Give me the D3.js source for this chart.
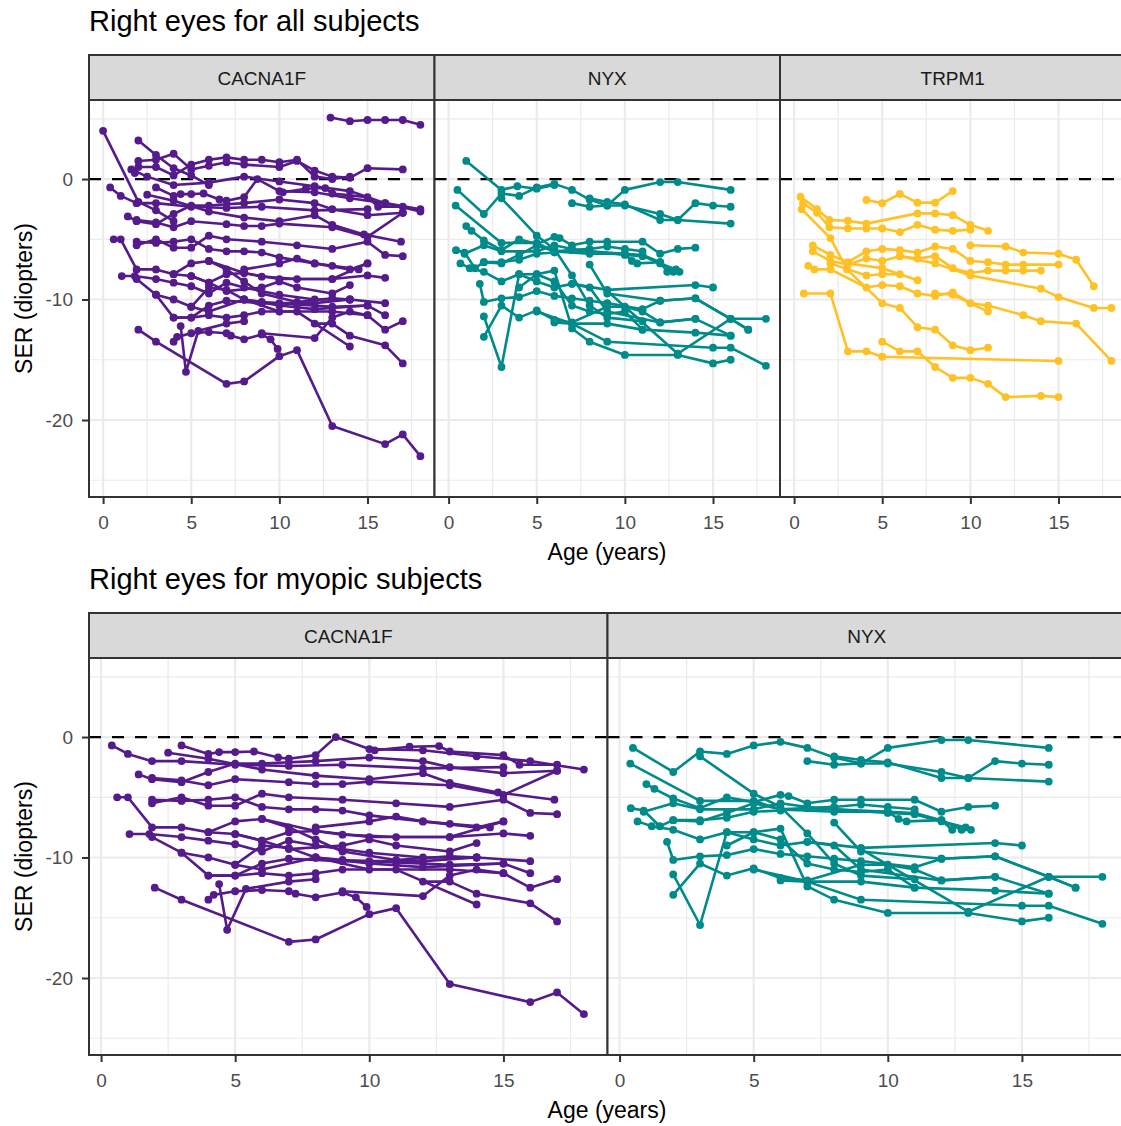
<!DOCTYPE html>
<html><head><meta charset="utf-8">
<script src="https://cdn.jsdelivr.net/npm/d3@7"></script>
<style>body{margin:0;background:#fff} svg{display:block}</style>
</head><body><svg id="chart" width="1121" height="1126"></svg>
<script>
// ---------- DATA (age in years, SER in diopters), one array per subject ----------
const cacna1fMyopic = [
  [[0.4,-0.7],[1.0,-1.4],[1.9,-2.0],[3.0,-2.0],[5.0,-2.3],[7.0,-2.4],[9.0,-2.3],[12.0,-2.6],[15.0,-2.5]],
  [[3.0,-0.7],[4.0,-1.4],[4.4,-1.25],[5.0,-1.25],[5.7,-1.2],[6.6,-1.7],[7.0,-1.8],[8.0,-1.5],[8.75,0.0],[10.0,-1.0],[12.0,-1.1],[14.0,-1.6],[16.0,-2.0],[18.0,-2.7]],
  [[10.2,-1.1],[11.5,-0.8],[12.6,-0.75],[13.0,-1.2],[15.0,-1.5],[15.6,-2.3],[17.0,-2.3]],
  [[1.4,-3.1],[1.9,-3.5],[3.0,-3.75],[4.0,-2.9],[5.0,-2.2],[6.0,-2.2],[8.0,-2.0],[10.0,-1.7],[12.0,-2.0],[13.0,-2.5],[15.0,-3.0],[17.0,-2.8]],
  [[1.9,-3.4],[3.0,-3.6],[4.0,-4.0],[5.0,-3.5],[7.0,-3.75],[8.0,-3.9],[9.0,-3.9],[10.0,-3.7],[13.0,-4.0],[15.0,-4.8],[17.0,-2.8]],
  [[2.5,-1.3],[4.0,-1.8],[6.0,-2.7],[8.0,-3.2],[10.0,-3.5],[12.0,-3.0],[13.0,-3.8],[14.8,-4.6],[16.9,-5.2]],
  [[0.6,-5.0],[1.0,-5.0],[1.9,-7.5],[3.0,-7.5],[4.0,-7.9],[5.0,-8.05],[6.0,-8.6],[7.0,-7.9],[8.0,-7.8],[10.0,-8.3],[13.0,-8.3],[15.0,-8.0],[16.0,-8.2]],
  [[1.9,-5.5],[3.0,-5.0],[4.0,-5.7],[5.0,-5.7],[6.0,-4.7],[7.0,-5.0],[9.0,-5.2],[11.0,-5.5],[13.0,-5.8],[15.0,-5.2],[16.0,-6.3],[17.0,-6.4]],
  [[1.9,-5.2],[3.0,-5.3],[4.0,-5.2],[5.0,-5.0],[6.0,-5.8],[7.0,-6.0],[8.0,-6.0],[9.0,-6.1],[10.0,-6.5],[12.0,-7.0],[14.0,-7.5],[15.0,-7.0]],
  [[1.06,-8.05],[1.8,-8.05],[3.0,-8.3],[4.0,-8.6],[5.0,-8.9],[6.0,-9.5],[7.0,-8.6],[8.0,-9.0],[10.0,-9.6],[12.0,-10.0],[14.0,-10.0],[16.0,-10.3]],
  [[1.9,-8.3],[3.0,-9.6],[4.0,-10.0],[5.0,-10.6],[6.0,-9.0],[7.0,-9.2],[8.0,-10.0],[9.0,-10.2],[11.0,-10.4],[13.0,-10.6],[15.0,-10.5],[16.0,-11.3]],
  [[4.0,-11.5],[5.0,-11.5],[6.0,-11.3],[7.0,-11.5],[8.0,-11.3],[9.0,-11.0],[11.0,-11.0],[14.0,-13.9]],
  [[4.0,-13.5],[4.2,-13.1],[5.0,-12.8],[6.0,-12.7],[7.0,-12.8],[7.25,-13.0],[8.0,-13.3],[9.0,-12.9],[9.5,-13.3],[9.9,-14.1]],
  [[4.4,-12.2],[4.7,-16.0],[5.4,-12.6],[7.0,-12.0],[8.0,-11.8]],
  [[2.0,-12.5],[3.0,-13.5],[7.0,-17.0],[8.0,-16.8],[10.0,-14.7],[11.0,-14.2],[13.0,-20.5],[16.0,-22.0],[17.0,-21.2],[18.0,-23.0]],
  [[9.0,-12.8],[12.0,-13.2],[13.0,-11.5],[14.0,-11.0],[15.0,-11.3]],
  [[12.0,-12.0],[13.0,-12.0],[14.0,-13.0],[16.0,-13.8],[17.0,-15.3]],
  [[8.0,-10.0],[10.0,-11.0],[13.0,-11.0],[15.0,-11.3],[16.0,-12.5],[17.0,-11.8]],
  [[5.0,-8.05],[6.0,-8.6],[7.0,-9.3],[9.0,-9.0],[10.0,-8.5],[11.0,-9.0],[13.0,-9.5],[14.0,-8.8]],
  [[4.0,-7.9],[5.0,-7.0],[6.0,-6.8],[8.0,-7.8],[9.0,-8.1],[11.0,-8.3],[13.0,-8.3],[15.0,-7.0]],
  [[3.0,-9.6],[4.0,-11.5],[5.0,-11.5],[6.0,-10.5],[7.0,-10.1],[9.0,-10.3],[10.0,-10.3],[12.0,-10.3],[14.0,-10.0]],
  [[5.0,-10.6],[6.0,-11.0],[8.0,-10.0],[10.0,-10.5],[12.0,-10.8],[15.0,-10.5]],
  [[6.0,-6.8],[7.0,-7.5],[8.0,-8.5],[9.0,-9.5],[11.0,-10.2],[13.0,-9.9],[14.0,-10.0]],
  [[8.0,-7.5],[10.0,-7.0],[11.0,-6.6],[12.0,-7.0],[13.0,-7.2],[14.5,-7.5]]
];
const cacna1fOther = [
  [[0.0,4.0],[2.0,-1.9],[3.0,-2.6],[4.0,-3.5]],
  [[12.9,5.1],[14.0,4.8],[15.0,4.9],[16.0,4.9],[17.0,4.9],[18.0,4.5]],
  [[2.0,3.2],[3.0,2.0],[4.0,0.9],[5.0,0.3],[6.0,-0.5]],
  [[2.0,1.5],[3.0,1.6],[4.0,2.1],[5.0,0.8],[6.0,1.1],[7.0,1.4],[8.0,1.2],[10.0,1.0],[11.0,1.5],[12.0,0.7],[13.0,0.2],[14.0,0.1],[15.0,0.9],[17.0,0.8]],
  [[1.8,0.5],[2.0,1.0],[3.0,1.0],[4.0,0.3],[5.0,1.2],[6.0,1.6],[7.0,1.8],[8.0,1.6],[9.0,1.6],[10.0,1.4],[11.0,1.6],[12.0,0.2],[13.0,0.0],[14.0,0.2]],
  [[1.6,0.8],[2.5,0.2],[4.0,-0.5],[6.0,-0.3],[8.0,0.2],[10.0,-0.2],[12.0,-0.6],[14.0,-1.0],[16.0,-2.0],[18.0,-2.5]]
];
const nyxMyopic = [
  [[0.5,-0.9],[2.0,-2.9],[3.0,-1.2],[4.0,-1.4],[5.0,-0.7],[6.0,-0.4],[7.0,-0.9],[8.0,-1.7],[9.0,-2.2],[10.0,-2.2],[12.0,-2.9],[13.0,-3.4],[16.0,-3.7]],
  [[7.0,-2.0],[8.0,-2.3],[9.0,-2.2],[10.0,-0.9],[12.0,-0.25],[13.0,-0.25],[16.0,-0.9]],
  [[8.0,-1.6],[9.0,-1.9],[10.0,-2.1],[12.0,-3.4],[13.0,-3.4],[14.0,-2.0],[15.0,-2.2],[16.0,-2.3]],
  [[0.4,-2.2],[3.0,-5.3],[5.0,-5.3],[6.0,-6.0],[8.0,-6.2],[10.0,-6.2],[11.0,-6.3],[12.0,-6.9],[12.4,-7.7]],
  [[3.0,-1.6],[5.0,-4.7],[6.0,-5.8],[7.0,-8.0],[8.0,-10.5],[9.0,-11.5],[11.0,-11.8]],
  [[1.0,-3.9],[1.3,-4.3],[2.0,-5.1],[3.0,-5.9],[4.0,-5.0],[5.0,-5.4],[6.0,-4.8],[6.3,-4.9],[7.0,-5.5],[8.0,-5.2],[9.0,-5.2],[11.0,-5.2],[12.0,-6.2],[13.0,-5.8],[14.0,-5.7]],
  [[0.42,-5.9],[0.9,-6.1],[1.5,-7.4],[2.0,-6.9],[3.0,-6.9],[4.0,-6.7],[5.0,-6.2],[6.0,-6.1],[7.0,-5.9],[8.0,-6.0],[10.0,-6.2],[10.4,-6.8],[10.7,-7.0],[12.0,-6.9],[12.75,-7.7],[13.1,-7.7]],
  [[0.67,-7.0],[1.2,-7.4],[2.0,-7.7],[3.0,-8.5],[4.0,-7.9],[5.0,-7.9],[6.0,-7.6],[7.0,-12.4],[8.0,-13.5],[10.0,-14.6],[13.0,-14.6],[15.0,-15.3],[16.0,-15.0]],
  [[1.77,-8.7],[2.0,-10.2],[3.0,-9.9],[4.0,-9.8],[5.0,-9.3],[6.0,-9.7],[7.0,-9.9],[8.0,-10.1],[9.0,-10.3],[11.0,-10.8],[12.0,-10.1],[14.0,-9.9],[16.0,-11.6],[17.0,-12.5]],
  [[2.0,-11.4],[3.0,-15.6],[4.0,-7.9],[5.0,-8.5],[6.0,-9.0],[7.0,-8.7],[9.0,-9.2],[14.0,-8.8],[15.0,-9.0]],
  [[2.0,-13.1],[3.0,-10.5],[4.0,-11.5],[5.0,-10.9],[6.0,-11.7],[7.0,-11.9],[9.0,-10.6],[10.0,-10.6],[11.0,-11.0],[12.0,-11.9],[14.0,-11.6],[16.0,-13.0]],
  [[4.0,-9.0],[5.0,-7.9],[6.0,-8.5],[7.0,-10.5],[8.0,-11.0],[9.0,-11.2],[10.0,-11.0],[11.0,-12.5]],
  [[8.0,-7.1],[9.0,-9.5],[12.0,-10.1],[14.0,-9.9],[16.0,-11.6],[17.0,-12.5]],
  [[7.0,-8.7],[8.0,-9.0],[9.0,-11.0],[12.0,-11.9],[14.0,-11.6]],
  [[6.0,-11.9],[7.0,-12.0],[9.0,-12.0],[11.0,-12.5],[14.0,-12.75],[16.0,-13.0]],
  [[5.0,-11.0],[7.0,-12.0],[9.0,-13.5],[15.0,-14.0],[16.0,-14.0],[18.0,-15.5]],
  [[9.0,-9.3],[13.0,-14.5],[16.0,-11.6],[18.0,-11.6]],
  [[0.9,-6.2],[2.0,-5.5],[3.0,-6.0],[5.0,-6.0],[6.0,-5.5],[7.0,-5.8],[8.0,-6.0],[10.0,-6.3],[11.0,-6.4],[12.0,-7.0],[12.9,-7.5]],
  [[2.0,-6.9],[3.0,-7.0],[4.0,-6.3],[5.0,-5.5],[6.0,-6.0],[8.0,-5.8],[9.0,-5.6],[10.0,-5.8],[11.0,-6.0]]
];
const nyxOther = [
  [[1.0,1.5],[3.0,-0.9],[3.9,-0.6],[5.0,-0.8],[6.0,-0.5]]
];
const trpm1All = [
  [[4.1,-1.74],[5.0,-2.0],[6.0,-1.24],[7.0,-1.96],[8.0,-1.96],[9.0,-1.0]],
  [[0.43,-2.5],[2.06,-4.9],[3.0,-7.5],[5.0,-10.3],[6.0,-10.7],[7.0,-12.3],[8.0,-12.5],[9.0,-13.8],[10.0,-14.2],[11.0,-14.0]],
  [[0.55,-9.5],[2.06,-9.5],[3.05,-14.3],[4.1,-14.3],[5.0,-14.75],[15.0,-15.1]],
  [[5.0,-13.5],[6.0,-14.3],[7.0,-14.3],[8.0,-15.6],[9.0,-16.5],[10.0,-16.5],[11.0,-17.0],[12.0,-18.1],[14.0,-18.0],[15.0,-18.1]],
  [[0.36,-1.47],[1.3,-2.5],[2.0,-3.4],[3.05,-3.46],[4.1,-3.7],[7.0,-2.85],[8.0,-2.85],[9.0,-3.0],[10.0,-3.8],[11.0,-4.3]],
  [[0.5,-2.0],[1.3,-2.8],[2.0,-4.0],[3.05,-4.1],[4.1,-4.1],[5.0,-4.1],[6.0,-4.4],[7.0,-3.8],[8.0,-4.2],[9.0,-4.3],[10.0,-4.2]],
  [[1.06,-5.5],[2.06,-6.3],[3.05,-6.9],[4.1,-6.0],[5.0,-5.8],[6.0,-5.9],[7.0,-6.1],[8.0,-5.6],[9.0,-5.8],[10.0,-6.8],[11.0,-6.9],[12.0,-7.1],[13.0,-7.1],[15.0,-7.1]],
  [[1.06,-6.0],[2.06,-6.8],[3.05,-7.1],[4.1,-6.6],[5.0,-6.8],[6.0,-6.4],[7.0,-6.6],[8.0,-6.4],[9.0,-7.4],[10.0,-7.8],[11.0,-7.6],[12.0,-7.6],[13.0,-7.6],[14.0,-7.6]],
  [[10.0,-5.5],[12.0,-5.6],[13.0,-6.1],[15.0,-6.2],[16.0,-6.7],[17.0,-8.9]],
  [[0.8,-7.2],[1.15,-7.5],[2.06,-7.5],[4.1,-9.0],[5.0,-8.8],[6.0,-8.9],[7.0,-9.5],[8.0,-9.7],[9.0,-9.4],[10.0,-10.3],[11.0,-10.5],[13.0,-11.3],[14.0,-11.8],[16.0,-12.0],[18.0,-15.1]],
  [[2.06,-7.0],[4.1,-8.0],[5.0,-7.9],[6.0,-7.9]],
  [[3.05,-7.0],[5.0,-7.4],[7.0,-8.4]],
  [[6.0,-6.4],[8.0,-7.0],[10.0,-8.0],[14.0,-9.1],[15.0,-9.8],[17.0,-10.7],[18.0,-10.7]],
  [[8.0,-9.5],[9.0,-9.6],[11.0,-11.0]]
];
const geneNames = ["CACNA1F", "NYX", "TRPM1"];
const geneColors = ["#551A8B", "#008B8B", "#FFC125"];
const xTicks = [0, 5, 10, 15];
const xMinorTicks = [2.5, 7.5, 12.5, 17.5];
const yTicks = [0, -10, -20];
const yMinorTicks = [5, -5, -15, -25];
const titles = ["Right eyes for all subjects", "Right eyes for myopic subjects"];
const xTitle = "Age (years)";
const yTitle = "SER (diopters)";

// ---------- DRAWING ----------
const svg = d3.select("#chart");
const FONT = "'Liberation Sans', Arial, sans-serif";
const yDomain = [-26.39, 6.56];

function drawSection(cfg) {
  svg.append("text").attr("x", cfg.left).attr("y", cfg.titleY)
    .attr("font-family", FONT).attr("font-size", 29).attr("fill", "#000").text(cfg.title);
  let yScale;
  cfg.facets.forEach((f, i) => {
    const x0 = cfg.left + i * cfg.panelW, x1 = x0 + cfg.panelW;
    const x = d3.scaleLinear().domain(cfg.xDomain).range([x0, x1]);
    const y = d3.scaleLinear().domain(yDomain).range([cfg.panelBot, cfg.panelTop]);
    yScale = y;
    const g = svg.append("g");
    g.append("rect").attr("x", x0).attr("y", cfg.panelTop).attr("width", cfg.panelW)
      .attr("height", cfg.panelBot - cfg.panelTop).attr("fill", "#fff");
    // grid
    g.selectAll(".vmin").data(xMinorTicks).join("line")
      .attr("x1", d => x(d)).attr("x2", d => x(d)).attr("y1", cfg.panelTop).attr("y2", cfg.panelBot)
      .attr("stroke", "#EBEBEB").attr("stroke-width", 1.2);
    g.selectAll(".hmin").data(yMinorTicks).join("line")
      .attr("x1", x0).attr("x2", x1).attr("y1", d => y(d)).attr("y2", d => y(d))
      .attr("stroke", "#EBEBEB").attr("stroke-width", 1.2);
    g.selectAll(".vmaj").data(xTicks).join("line")
      .attr("x1", d => x(d)).attr("x2", d => x(d)).attr("y1", cfg.panelTop).attr("y2", cfg.panelBot)
      .attr("stroke", "#EBEBEB").attr("stroke-width", 2.2);
    g.selectAll(".hmaj").data(yTicks).join("line")
      .attr("x1", x0).attr("x2", x1).attr("y1", d => y(d)).attr("y2", d => y(d))
      .attr("stroke", "#EBEBEB").attr("stroke-width", 2.2);
    // zero reference
    g.append("line").attr("x1", x0).attr("x2", x1).attr("y1", y(0)).attr("y2", y(0))
      .attr("stroke", "#000").attr("stroke-width", 2.3).attr("stroke-dasharray", "12,11");
    // data
    const line = d3.line().x(d => x(d[0])).y(d => y(d[1]));
    g.selectAll(".subj").data(f.subjects).join("path")
      .attr("d", line).attr("fill", "none").attr("stroke", f.color)
      .attr("stroke-width", 2.6).attr("stroke-linejoin", "round");
    g.selectAll(".pt").data(f.subjects.flat()).join("circle")
      .attr("cx", d => x(d[0])).attr("cy", d => y(d[1])).attr("r", 3.9).attr("fill", f.color);
    // border
    g.append("rect").attr("x", x0).attr("y", cfg.panelTop).attr("width", cfg.panelW)
      .attr("height", cfg.panelBot - cfg.panelTop).attr("fill", "none")
      .attr("stroke", "#333333").attr("stroke-width", 2);
    // strip
    g.append("rect").attr("x", x0).attr("y", cfg.stripTop).attr("width", cfg.panelW)
      .attr("height", cfg.panelTop - cfg.stripTop).attr("fill", "#D9D9D9")
      .attr("stroke", "#333333").attr("stroke-width", 2);
    g.append("text").attr("x", (x0 + x1) / 2).attr("y", (cfg.stripTop + cfg.panelTop) / 2 + 7)
      .attr("text-anchor", "middle").attr("font-family", FONT).attr("font-size", 19)
      .attr("fill", "#1A1A1A").text(f.name);
    // x axis
    const ax = g.append("g").attr("transform", `translate(0,${cfg.panelBot})`)
      .call(d3.axisBottom(x).tickValues(xTicks).tickFormat(d => String(d)).tickSize(7).tickPadding(12));
    ax.select(".domain").remove();
    ax.selectAll("line").attr("stroke", "#333333").attr("stroke-width", 2);
    ax.selectAll("text").attr("font-family", FONT).attr("font-size", 19).attr("fill", "#4D4D4D");
  });
  // y axis
  const ay = svg.append("g").attr("transform", `translate(${cfg.left},0)`)
    .call(d3.axisLeft(yScale).tickValues(yTicks).tickFormat(d => String(d)).tickSize(7).tickPadding(9));
  ay.select(".domain").remove();
  ay.selectAll("line").attr("stroke", "#333333").attr("stroke-width", 2);
  ay.selectAll("text").attr("font-family", FONT).attr("font-size", 19).attr("fill", "#4D4D4D");
  // axis titles
  svg.append("text").attr("x", 607).attr("y", cfg.axisTitleY).attr("text-anchor", "middle")
    .attr("font-family", FONT).attr("font-size", 23).attr("fill", "#000").text(xTitle);
  const cy = (cfg.panelTop + cfg.panelBot) / 2;
  svg.append("text").attr("transform", `translate(32,${cy}) rotate(-90)`).attr("text-anchor", "middle")
    .attr("font-family", FONT).attr("font-size", 23).attr("fill", "#000").text(yTitle);
}

drawSection({
  title: titles[0], titleY: 31, stripTop: 55, panelTop: 100, panelBot: 497,
  left: 89, panelW: 345.5, xDomain: [-0.8, 18.8], axisTitleY: 560,
  facets: [
    {name: geneNames[0], color: geneColors[0], subjects: cacna1fMyopic.concat(cacna1fOther)},
    {name: geneNames[1], color: geneColors[1], subjects: nyxMyopic.concat(nyxOther)},
    {name: geneNames[2], color: geneColors[2], subjects: trpm1All}
  ]
});
drawSection({
  title: titles[1], titleY: 589, stripTop: 613, panelTop: 658, panelBot: 1055,
  left: 89, panelW: 518.5, xDomain: [-0.45, 18.88], axisTitleY: 1118,
  facets: [
    {name: geneNames[0], color: geneColors[0], subjects: cacna1fMyopic},
    {name: geneNames[1], color: geneColors[1], subjects: nyxMyopic}
  ]
});
</script>
</body></html>
